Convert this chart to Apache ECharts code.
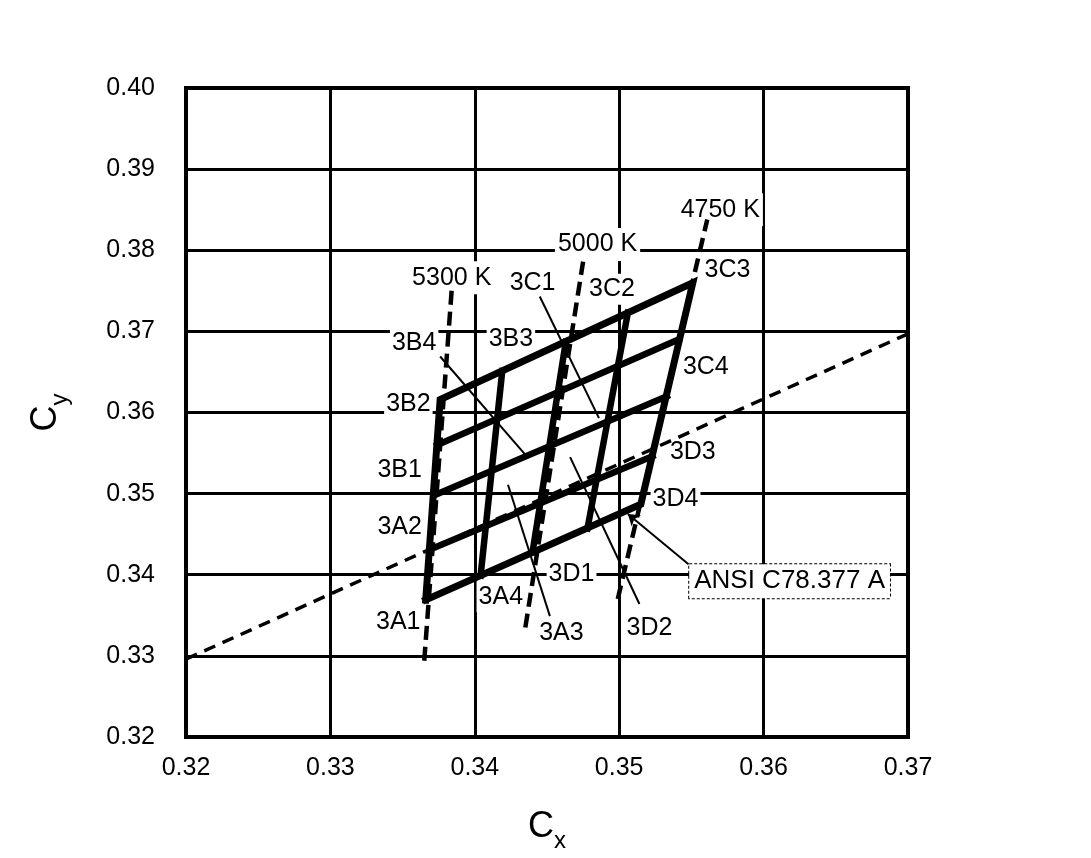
<!DOCTYPE html>
<html><head><meta charset="utf-8">
<script src="https://cdn.jsdelivr.net/npm/echarts@6/dist/echarts.min.js"></script>
<style>html,body{margin:0;padding:0;background:#fff}#c{width:1091px;height:858px}</style>
</head><body><div id="c"></div>
<script>
// ---- data (chromaticity coordinates) ----
const xTickValues = [0.32, 0.33, 0.34, 0.35, 0.36, 0.37];
const yTickValues = [0.32, 0.33, 0.34, 0.35, 0.36, 0.37, 0.38, 0.39, 0.40];

// rows of the 4x4 sub-bin grid (bottom to top): [left end, right end]
const binRows = [
  [[0.3366, 0.3369], [0.3515, 0.3487]],
  [[0.3369, 0.3431], [0.3523, 0.3546]],
  [[0.3372, 0.3498], [0.3533, 0.3620]],
  [[0.3374, 0.3560], [0.3541, 0.3690]],
  [[0.3376, 0.3616], [0.3551, 0.3760]]
];
// columns (left to right): [bottom end, top end]
const binCols = [
  [[0.3366, 0.3369], [0.3376, 0.3616]],
  [[0.3404, 0.3399], [0.3419, 0.3651]],
  [[0.3440, 0.3428], [0.3463, 0.3687]],
  [[0.3478, 0.3457], [0.3506, 0.3723]],
  [[0.3515, 0.3487], [0.3551, 0.3760]]
];

const isoNames = ['5300 K', '5000 K', '4750 K'];
const isoLines = [
  [[0.3365, 0.3294], [0.3384, 0.3751]],
  [[0.3435, 0.3335], [0.3475, 0.3786]],
  [[0.3499, 0.3370], [0.3561, 0.3838]]
];
const isoLabelPos = [[0.3384, 0.3766], [0.3485, 0.3807], [0.3570, 0.3850]];

const locusLine = [[0.3200, 0.3296], [0.3700, 0.3697]];

const binNames = ['3A1','3A2','3A3','3A4','3B1','3B2','3B3','3B4',
                  '3C1','3C2','3C3','3C4','3D1','3D2','3D3','3D4'];
const binLabelPos = [
  [0.3347, 0.3342], [0.3348, 0.3459], [0.3460, 0.3328], [0.3418, 0.3373],
  [0.3348, 0.3529], [0.3354, 0.3610], [0.3425, 0.3691], [0.3358, 0.3685],
  [0.3440, 0.3759], [0.3495, 0.3752], [0.3575, 0.3775], [0.3560, 0.3656],
  [0.3467, 0.3401], [0.3521, 0.3334], [0.3551, 0.3551], [0.3539, 0.3493]
];
// thin leader lines from labels into bins
const leaderLines = [
  [[0.3376, 0.3669], [0.3436, 0.3546]],   // 3B4
  [[0.3445, 0.3743], [0.3486, 0.3593]],   // 3C1
  [[0.3452, 0.3349], [0.3423, 0.3511]],   // 3A3
  [[0.3514, 0.3364], [0.3466, 0.3545]]    // 3D2
];
const ansiText = 'ANSI C78.377 A';
const ansiLabelPos = [0.3618, 0.3392];
const ansiArrow = [[0.3548, 0.3413], [0.3506, 0.3475]];

// ---- chart ----
const FONT = "'Liberation Sans', Arial, sans-serif";
const series = [];
const solid = (pts, w) => ({
  type: 'line', data: pts, symbol: 'none', silent: true, z: 3,
  lineStyle: { color: '#000', width: w, cap: 'square', join: 'miter' }
});
const dashed = (pts, w, dash) => ({
  type: 'line', data: pts, symbol: 'none', silent: true, z: 3,
  lineStyle: { color: '#000', width: w, type: dash }
});

series.push(dashed(locusLine, 3.5, [12, 8]));
isoLines.forEach(l => series.push(dashed(l, 4.5, [14, 7])));
// perimeter
series.push(solid([binRows[0][0], binRows[0][1], binRows[4][1], binRows[4][0], binRows[0][0]], 7));
for (let i = 1; i < 4; i++) {
  series.push(solid(binRows[i], 6.5));
  series.push(solid(binCols[i], 6.5));
}
leaderLines.forEach(l => series.push({
  type: 'line', data: l, symbol: 'none', silent: true, z: 3,
  lineStyle: { color: '#000', width: 2 }
}));
series.push({
  type: 'lines', coordinateSystem: 'cartesian2d', silent: true, z: 3,
  symbol: ['none', 'arrow'], symbolSize: 11,
  lineStyle: { color: '#000', width: 2, opacity: 1 },
  data: [{ coords: [ansiArrow[0], ansiArrow[1]] }]
});
const labelStyle = {
  show: true, position: 'inside', formatter: '{b}', color: '#000', opacity: 1,
  textBorderWidth: 0, fontFamily: FONT, fontSize: 25, backgroundColor: '#fff', padding: [3, 2]
};
const labelSeries = (data, label) => ({
  type: 'scatter', symbolSize: 0, silent: true, z: 1,
  itemStyle: { opacity: 1, color: '#000' },
  data: data, label: label
});
series.push(labelSeries(binNames.map((n, i) => ({ name: n, value: binLabelPos[i] })), labelStyle));
series.push(labelSeries(isoNames.map((n, i) => ({ name: n, value: isoLabelPos[i] })),
  Object.assign({}, labelStyle, { padding: [4, 3] })));
series.push(labelSeries([{ name: ansiText, value: ansiLabelPos }],
  Object.assign({}, labelStyle, {
    fontSize: 26, padding: [4, 5], borderColor: '#000', borderWidth: 1, borderType: [3, 2]
  })));

const titleRich = {
  a: { fontFamily: FONT, fontSize: 36, color: '#000', lineHeight: 36, verticalAlign: 'bottom', padding: [0, 0, 8, 0] },
  b: { fontFamily: FONT, fontSize: 24, color: '#000', lineHeight: 24, verticalAlign: 'bottom' }
};
const chart = echarts.init(document.getElementById('c'));
chart.setOption({
  animation: false,
  backgroundColor: '#fff',
  grid: { left: 186, top: 88, width: 722, height: 650, show: true,
          borderColor: '#000', borderWidth: 4, backgroundColor: 'transparent' },
  xAxis: {
    type: 'value', min: xTickValues[0], max: xTickValues[xTickValues.length - 1], interval: 0.01,
    axisLine: { show: false }, axisTick: { show: false },
    splitLine: { show: true, lineStyle: { color: '#000', width: 3 } },
    axisLabel: { formatter: v => v.toFixed(2), color: '#000', fontFamily: FONT, fontSize: 25, margin: 19 },
    name: '{a|C}{b|x}', nameLocation: 'middle', nameGap: 80,
    nameTextStyle: { rich: titleRich }
  },
  yAxis: {
    type: 'value', min: yTickValues[0], max: yTickValues[yTickValues.length - 1], interval: 0.01,
    axisLine: { show: false }, axisTick: { show: false },
    splitLine: { show: true, lineStyle: { color: '#000', width: 3 } },
    axisLabel: { formatter: v => v.toFixed(2), color: '#000', fontFamily: FONT, fontSize: 25, margin: 31 },
    name: '{a|C}{b|y}', nameLocation: 'middle', nameGap: 114, nameRotate: 90,
    nameTextStyle: { rich: titleRich }
  },
  series: series
});
</script>
</body></html>
